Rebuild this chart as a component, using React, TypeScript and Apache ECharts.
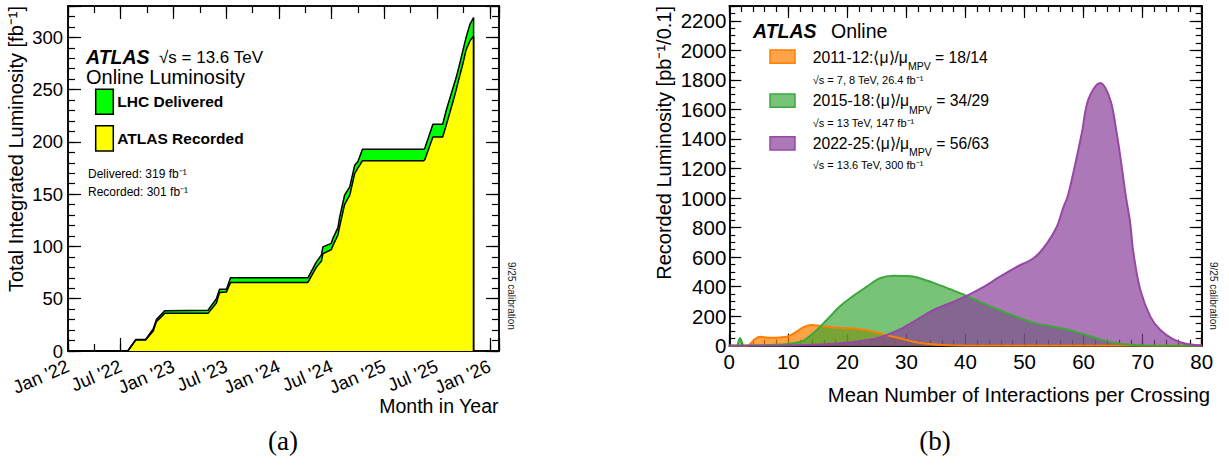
import React, { useEffect, useRef } from 'react';
import * as echarts from 'echarts';

// ---------- data: (a) cumulative luminosity ----------
const lumiDates = ['2022-01-01','2022-07-27','2022-08-24','2022-09-27','2022-10-23','2022-11-03','2022-12-02','2023-05-01','2023-05-30','2023-06-10','2023-07-04','2023-07-18','2024-04-11','2024-05-10','2024-05-28','2024-06-02','2024-07-01','2024-07-07','2024-07-24','2024-07-30','2024-08-16','2024-09-03','2024-09-20','2024-10-01','2024-10-17','2025-05-17','2025-05-21','2025-06-18','2025-07-22','2025-08-03','2025-08-26','2025-09-07','2025-09-16','2025-09-30','2025-10-11','2025-10-25','2025-11-06','2025-11-06'];
const deliveredFb = [0,0,11,11,21,30,38.5,39,50,59,59,70,70,85,92,99.6,103,108,118,128,149,157,177.6,181,193,193,194,217,217,230,251,262,271.5,287.5,300,313,319,0];
const recordedFb = [0,0,10.5,10.5,19,28,36,36,46,56,56.4,65.6,65.6,80,86,93,97,101,111,119,140,149,169.7,175,182,182,183,204.7,204.7,216,238,250,260,275,288,297,301,0];
const monthNames = ['Jan','Feb','Mar','Apr','May','Jun','Jul','Aug','Sep','Oct','Nov','Dec'];

// ---------- data: (b) pile-up distributions [mu, pb^-1/0.1] ----------
const run2011Points: [number, number][] = [[0,0],[3,0],[3.6,15],[4.3,43],[5.2,60],[6.3,56],[7.4,54],[8.6,56],[10,65],[11.4,95],[12.5,124],[14,140],[15.4,134],[17.6,124],[19.9,120],[22.1,111],[24.4,95],[26.6,72],[28.9,50],[31.2,27],[33.4,14],[35.7,6],[38,1],[40,0],[80,0]];
const run2015Points: [number, number][] = [[0,0],[1.2,0],[1.8,50],[2.5,0],[3,2],[5,3],[8,6],[10,12],[11.5,22],[12.5,33],[14.2,84],[16.5,174],[18.7,265],[21,337],[23.3,400],[25.5,457],[27.8,474],[30,472],[31.7,464],[34.6,425],[37.4,382],[40.2,337],[43,287],[45.7,242],[48.6,197],[51.5,156],[54.3,133],[57.1,111],[59.9,79],[62.8,43],[65.7,16],[68.4,5],[72,0],[80,0]];
const run2022Points: [number, number][] = [[0,0],[7,0],[13,5],[18.7,16],[24.4,45],[26.6,72],[28.9,110],[31.5,170],[34.6,242],[37.5,290],[40.2,337],[43,396],[45.7,464],[48.6,532],[51.5,592],[53.2,660],[55.4,800],[56.6,940],[57.3,1010],[58.5,1214],[59.7,1440],[60.8,1666],[62.8,1779],[64.5,1666],[65.6,1440],[66.45,1214],[67.2,1000],[67.9,829],[68.4,640],[69.6,378],[71.3,197],[73,106],[75.2,43],[77.5,12],[79.7,3],[80,2]];

const FONT = "'Liberation Sans', Arial, Helvetica, sans-serif";
const DAY = 86400000;
const HALF_YEAR = 182.625 * DAY;
const QUARTER = HALF_YEAR / 2;
const T0 = Date.UTC(2022, 0, 1);
const T1 = Date.UTC(2026, 1, 2);

const fmtMonth = (v: number) => {
  const k = (v - T0) / HALF_YEAR;
  if (Math.abs(k - Math.round(k)) > 0.01) return '';
  const d = new Date(v + 10 * DAY);
  return monthNames[d.getUTCMonth()] + " '" + String(d.getUTCFullYear()).slice(2);
};

const axis = (gridIndex: number, position: string, min: number, max: number, interval: number, tickLen: number, label?: any) => ({
  type: 'value', gridIndex, position, min, max, interval,
  axisLine: { show: true, onZero: false, lineStyle: { color: '#000', width: 1.5 } },
  axisTick: { show: true, inside: true, length: tickLen, lineStyle: { color: '#000', width: 1.2 } },
  axisLabel: label ? { color: '#000', fontFamily: FONT, ...label } : { show: false },
  splitLine: { show: false },
  minorTick: { show: false },
});

const txt = (x: number, y: number, text: string, fontSize: number, extra: any = {}, rotation = 0) => ({
  type: 'text', x, y, rotation, silent: true,
  style: { text, fill: '#000', fontFamily: FONT, fontSize, align: 'left', verticalAlign: 'middle', ...extra },
});

const rect = (x: number, y: number, w: number, h: number, fill: string, stroke: string) => ({
  type: 'rect', shape: { x, y, width: w, height: h }, style: { fill, stroke, lineWidth: 1.5 }, silent: true,
});

const ORANGE_LINE = 'rgb(255,127,0)';
const ORANGE_FILL = 'rgba(255,128,0,0.72)';
const GREEN_LINE = 'rgb(60,168,60)';
const GREEN_FILL = 'rgba(47,163,47,0.65)';
const PURPLE_LINE = 'rgb(150,72,165)';
const PURPLE_FILL = 'rgba(138,62,154,0.7)';

const legendRich = {
  m: { fontSize: 15.7, fontFamily: FONT, color: '#000' },
  s: { fontSize: 10.5, fontFamily: FONT, color: '#000', padding: [18, 0, 0, 0] },
};

export default function App() {
  const ref = useRef<HTMLDivElement>(null);
  useEffect(() => {
    if (!ref.current) return;
    const chart = echarts.init(ref.current, undefined, { renderer: 'svg' });
    const option: any = {
      animation: false,
      backgroundColor: '#fff',
      grid: [
        { left: 68, top: 6, width: 431, height: 345 },
        { left: 729.3, top: 6, width: 472.4, height: 339.7 },
      ],
      xAxis: [
        axis(0, 'bottom', T0, T1, HALF_YEAR, 13, { rotate: 23, fontSize: 18.5, margin: 14, formatter: fmtMonth, showMinLabel: true, showMaxLabel: true }),
        axis(0, 'bottom', T0, T1, QUARTER, 7),
        axis(0, 'top', T0, T1, HALF_YEAR, 13),
        axis(0, 'top', T0, T1, QUARTER, 7),
        axis(1, 'bottom', 0, 80, 10, 12, { fontSize: 20.5, margin: 5 }),
        axis(1, 'bottom', 0, 80, 2, 6),
        axis(1, 'top', 0, 80, 10, 12),
        axis(1, 'top', 0, 80, 2, 6),
      ],
      yAxis: [
        axis(0, 'left', 0, 330, 50, 13, { fontSize: 18.5, margin: 5, formatter: (v: number) => (v % 50 === 0 ? String(v) : '') }),
        axis(0, 'left', 0, 330, 10, 7),
        axis(0, 'right', 0, 330, 50, 13),
        axis(0, 'right', 0, 330, 10, 7),
        axis(1, 'left', 0, 2300, 200, 12, { fontSize: 20.5, margin: 3, formatter: (v: number) => (v % 200 === 0 ? String(v) : '') }),
        axis(1, 'left', 0, 2300, 50, 6),
        axis(1, 'right', 0, 2300, 200, 12),
        axis(1, 'right', 0, 2300, 50, 6),
      ],
      series: [
        {
          name: 'LHC Delivered', type: 'line', xAxisIndex: 0, yAxisIndex: 0, showSymbol: false, silent: true,
          data: lumiDates.map((d, i) => [Date.parse(d), deliveredFb[i]]),
          lineStyle: { color: '#000', width: 1.5 }, areaStyle: { color: '#00ff00', opacity: 1 },
        },
        {
          name: 'ATLAS Recorded', type: 'line', xAxisIndex: 0, yAxisIndex: 0, showSymbol: false, silent: true,
          data: lumiDates.map((d, i) => [Date.parse(d), recordedFb[i]]),
          lineStyle: { color: '#000', width: 1.5 }, areaStyle: { color: '#ffff00', opacity: 1 },
        },
        {
          name: '2011-12', type: 'line', xAxisIndex: 4, yAxisIndex: 4, showSymbol: false, silent: true, smooth: 0.35,
          data: run2011Points,
          lineStyle: { color: ORANGE_LINE, width: 2 }, areaStyle: { color: ORANGE_FILL, opacity: 1 },
        },
        {
          name: '2015-18', type: 'line', xAxisIndex: 4, yAxisIndex: 4, showSymbol: false, silent: true, smooth: 0.35,
          data: run2015Points,
          lineStyle: { color: GREEN_LINE, width: 2 }, areaStyle: { color: GREEN_FILL, opacity: 1 },
        },
        {
          name: '2022-25', type: 'line', xAxisIndex: 4, yAxisIndex: 4, showSymbol: false, silent: true, smooth: 0.35,
          data: run2022Points,
          lineStyle: { color: PURPLE_LINE, width: 2 }, areaStyle: { color: PURPLE_FILL, opacity: 1 },
        },
      ],
      graphic: [
        // panel (a)
        txt(16, 6, 'Total Integrated Luminosity [fb⁻¹]', 20, { align: 'right' }, Math.PI / 2),
        txt(498.5, 406, 'Month in Year', 19.5, { align: 'right' }),
        txt(86, 57, 'ATLAS', 19.5, { fontWeight: 'bold', fontStyle: 'italic' }),
        txt(159, 57, '√s = 13.6 TeV', 17),
        txt(86, 77, 'Online Luminosity', 20),
        rect(95.7, 89.3, 17.6, 25, '#00ff00', '#000'),
        rect(95.7, 125.7, 17.6, 25.3, '#ffff00', '#000'),
        txt(117.3, 101.5, 'LHC Delivered', 15.5, { fontWeight: 'bold' }),
        txt(117.3, 138, 'ATLAS Recorded', 15.5, { fontWeight: 'bold' }),
        txt(88, 173.5, 'Delivered: 319 fb⁻¹', 12),
        txt(88, 192, 'Recorded: 301 fb⁻¹', 12),
        txt(511, 262, '9/25 calibration', 10, { fill: '#222' }, -Math.PI / 2),
        txt(283, 441, '(a)', 27, { fontFamily: "'Liberation Serif', 'DejaVu Serif', serif", align: 'center' }),
        // panel (b)
        txt(664, 6, 'Recorded Luminosity [pb⁻¹/0.1]', 20, { align: 'right' }, Math.PI / 2),
        txt(1210, 395, 'Mean Number of Interactions per Crossing', 20.3, { align: 'right' }),
        txt(753, 31, 'ATLAS', 19.5, { fontWeight: 'bold', fontStyle: 'italic' }),
        txt(831, 31, 'Online', 19.5),
        rect(770, 50, 25, 13.3, ORANGE_FILL, ORANGE_LINE),
        rect(770, 94, 25, 13.3, GREEN_FILL, GREEN_LINE),
        rect(770, 136.7, 25, 13.3, PURPLE_FILL, PURPLE_LINE),
        txt(812.7, 57, '{m|2011-12:⟨μ⟩/μ}{s|MPV}{m| = 18/14}', 15.7, { rich: legendRich }),
        txt(812.7, 80, '√s = 7, 8 TeV, 26.4 fb⁻¹', 11),
        txt(812.7, 100.5, '{m|2015-18:⟨μ⟩/μ}{s|MPV}{m| = 34/29}', 15.7, { rich: legendRich }),
        txt(812.7, 123, '√s = 13 TeV, 147 fb⁻¹', 11),
        txt(812.7, 143, '{m|2022-25:⟨μ⟩/μ}{s|MPV}{m| = 56/63}', 15.7, { rich: legendRich }),
        txt(812.7, 165, '√s = 13.6 TeV, 300 fb⁻¹', 11),
        txt(1213, 262, '9/25 calibration', 10, { fill: '#222' }, -Math.PI / 2),
        txt(935, 441, '(b)', 27, { fontFamily: "'Liberation Serif', 'DejaVu Serif', serif", align: 'center' }),
      ],
    };
    chart.setOption(option);
    return () => chart.dispose();
  }, []);
  return (
    <div
      ref={ref}
      style={{ position: 'absolute', left: 0, top: 0, width: 1229, height: 466, background: '#fff' }}
    />
  );
}
